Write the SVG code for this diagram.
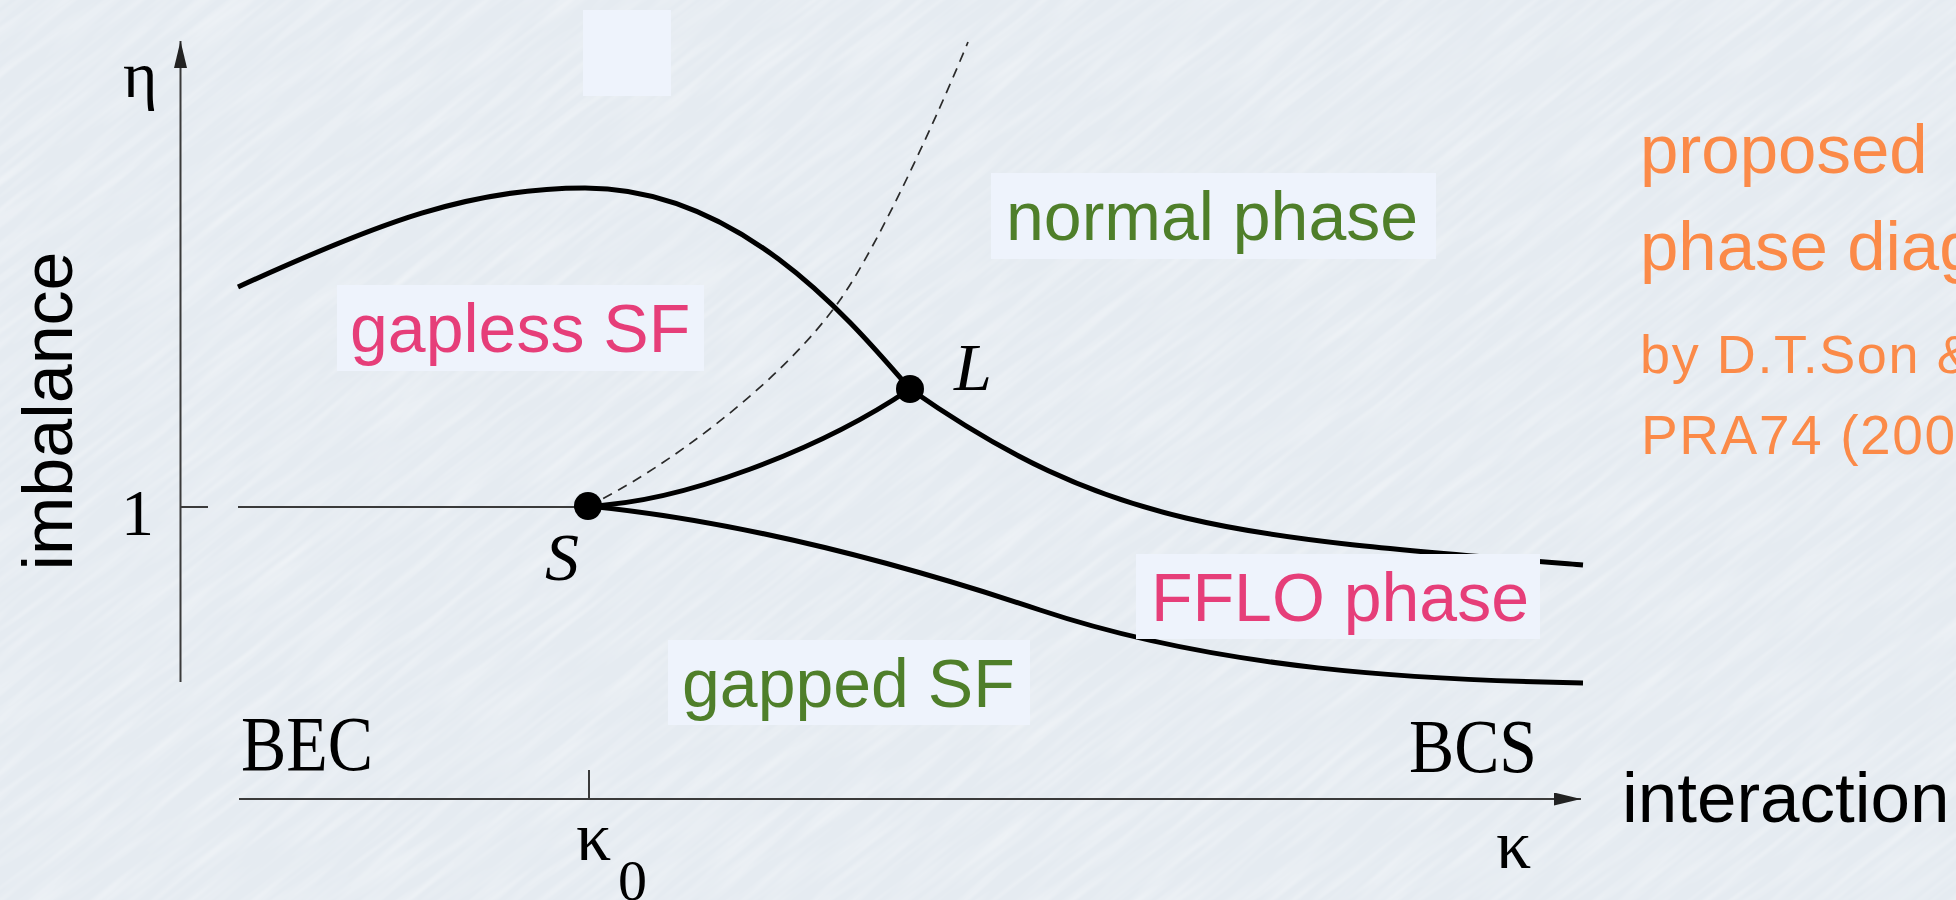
<svg xmlns="http://www.w3.org/2000/svg" width="1956" height="900" viewBox="0 0 1956 900">
<style>
.serif{font-family:"Liberation Serif","Times New Roman",serif;fill:#000}
.ital{font-style:italic}
.sans{font-family:"Liberation Sans",Arial,Helvetica,sans-serif}
.box{fill:#eef3fc}
.curve{fill:none;stroke:#000;stroke-width:5}
.axis{fill:none;stroke:#3a3a3a;stroke-width:2}
.dash{fill:none;stroke:#2a2a2a;stroke-width:1.7;stroke-dasharray:10 7}
.pink{fill:#e63e79;font-size:68px}
.green{fill:#4f7f2a;font-size:68px}
.orange{fill:#fb8a48}
</style>
<defs>
<marker id="arr" markerUnits="userSpaceOnUse" markerWidth="27" markerHeight="13" refX="27" refY="6.5" orient="auto">
<path d="M0,0 L27,6.5 L0,13 z" fill="#222"/>
</marker>
<filter id="tex" x="0" y="0" width="100%" height="100%">
<feTurbulence type="fractalNoise" baseFrequency="0.01 0.12" numOctaves="2" seed="7"/>
<feColorMatrix type="matrix" values="0 0 0 0 1  0 0 0 0 1  0 0 0 0 1  0.7 0 0 0 -0.28"/>
</filter>
</defs>
<rect width="1956" height="900" fill="#e5ebf1"/>
<g transform="rotate(-38 978 450)"><rect x="-600" y="-900" width="3200" height="2700" filter="url(#tex)"/></g>

<g id="connectors">
<path class="axis" d="M180.5,682 V41" marker-end="url(#arr)"/>
<path class="axis" d="M239,799 H1581" marker-end="url(#arr)"/>
<path class="axis" d="M180,507 H208 M238,507 H588"/>
<path class="axis" d="M589,770 V799"/>
<path class="curve" d="M238,287 C380,222 470,188 585,188 C740,188 850,320 910,389 C1110,529 1233,537 1583,565"/>
<path class="curve" d="M588,506 C680,503 820,450 910,389"/>
<path class="curve" d="M588,506 C738,521 890,560 1040,610 C1220,670 1420,680 1583,683"/>
<path class="dash" d="M588,506 C660,472 780,385 840,300 C880,243 940,110 968,42"/>
</g>

<g id="axis-labels">
<text class="serif" x="123" y="97" font-size="66">η</text>
<text class="serif" x="121" y="535" font-size="66">1</text>
<text class="sans" font-size="70" text-anchor="middle" transform="translate(72,411) rotate(-90)">imbalance</text>
<text class="serif" x="241" y="770" font-size="78" textLength="132" lengthAdjust="spacingAndGlyphs">BEC</text>
<text class="serif" x="1409" y="772" font-size="76" textLength="128" lengthAdjust="spacingAndGlyphs">BCS</text>
<text class="serif" x="576" y="860" font-size="70">κ</text>
<text class="serif" x="618" y="900" font-size="58">0</text>
<text class="serif" x="1496" y="868" font-size="70">κ</text>
<text class="sans" x="1622" y="822" font-size="71">interaction</text>
</g>

<g id="node-S">
<circle cx="588" cy="506" r="14" fill="#000"/>
<text class="serif ital" x="545" y="580" font-size="68">S</text>
</g>
<g id="node-L">
<circle cx="910" cy="389" r="14" fill="#000"/>
<text class="serif ital" x="954" y="390" font-size="68">L</text>
</g>

<g id="empty-box"><rect class="box" x="583" y="10" width="88" height="86"/></g>

<g id="gapless-SF">
<rect class="box" x="337" y="285" width="367" height="86"/>
<text class="sans pink" x="350" y="352">gapless SF</text>
</g>
<g id="normal-phase">
<rect class="box" x="991" y="173" width="445" height="86"/>
<text class="sans green" x="1006" y="240">normal phase</text>
</g>
<g id="FFLO-phase">
<rect class="box" x="1136" y="554" width="404" height="85"/>
<text class="sans pink" x="1151" y="621">FFLO phase</text>
</g>
<g id="gapped-SF">
<rect class="box" x="668" y="640" width="362" height="85"/>
<text class="sans green" x="682" y="707">gapped SF</text>
</g>

<g id="note">
<text class="sans orange" x="1640" y="173" font-size="69">proposed</text>
<text class="sans orange" x="1640" y="270" font-size="69">phase diag</text>
<text class="sans orange" x="1640" y="373" font-size="54" letter-spacing="1.6">by D.T.Son &amp;</text>
<text class="sans orange" x="1641" y="454" font-size="55" letter-spacing="1.6">PRA74 (200</text>
</g>
</svg>
